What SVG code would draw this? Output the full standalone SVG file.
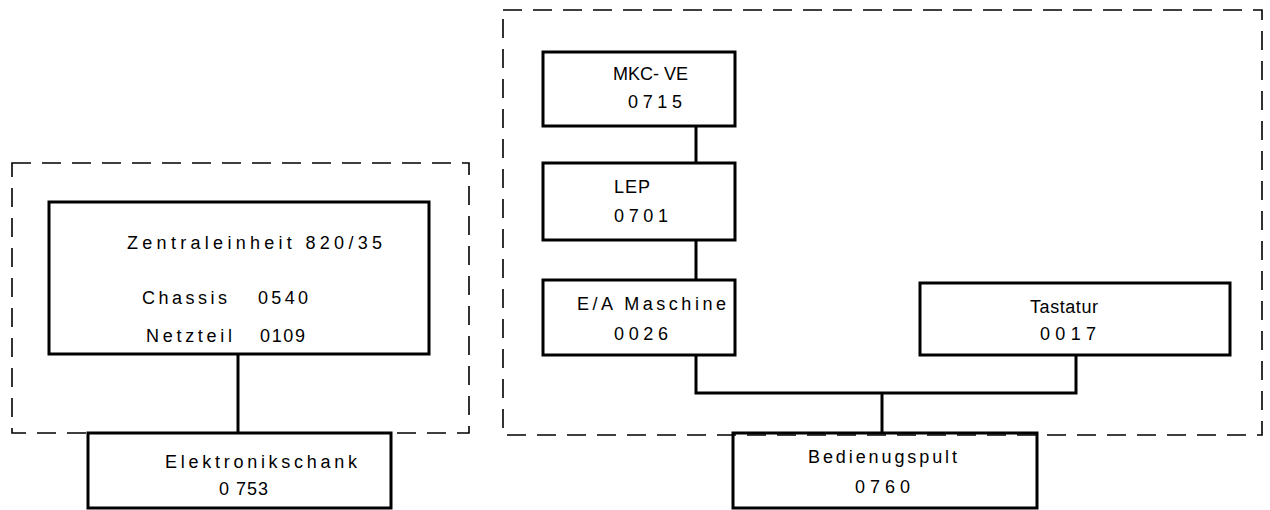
<svg xmlns="http://www.w3.org/2000/svg" width="1270" height="510" viewBox="0 0 1270 510">
<style>
.box{fill:none;stroke:#000;stroke-width:3}
.grp{fill:none;stroke:#000;stroke-width:1.6;stroke-dasharray:19 11}
.con{fill:none;stroke:#000;stroke-width:3}
text{font-family:"Liberation Sans","DejaVu Sans",sans-serif;font-size:18px;fill:#000}
</style>
<rect width="1270" height="510" fill="#fff"/>
<g id="groups">
<rect class="grp" x="12" y="163" width="457" height="270"/>
<rect class="grp" x="503" y="10" width="759" height="425"/>
</g>
<g id="connectors">
<line class="con" x1="238" y1="354" x2="238" y2="433"/>
<line class="con" x1="696" y1="126" x2="696" y2="163"/>
<line class="con" x1="696" y1="240" x2="696" y2="280"/>
<polyline class="con" points="696,355 696,393 1076,393 1076,355"/>
<line class="con" x1="882" y1="393" x2="882" y2="433"/>
</g>
<g id="zentraleinheit">
<rect class="box" x="49" y="202" width="380" height="152"/>
<text x="127" y="249" textLength="255" lengthAdjust="spacing">Zentraleinheit 820/35</text>
<text x="142" y="304" textLength="85" lengthAdjust="spacing">Chassis</text>
<text x="258" y="304" textLength="50" lengthAdjust="spacing">0540</text>
<text x="146" y="342" textLength="86" lengthAdjust="spacing">Netzteil</text>
<text x="260" y="342" textLength="45" lengthAdjust="spacing">0109</text>
</g>
<g id="elektronikschank">
<rect class="box" x="88" y="433" width="303" height="75"/>
<text x="165" y="468" textLength="192" lengthAdjust="spacing">Elektronikschank</text>
<text x="219" y="495" textLength="49" lengthAdjust="spacing">0 753</text>
</g>
<g id="mkc">
<rect class="box" x="543" y="52" width="192" height="74"/>
<text x="613" y="80" textLength="75" lengthAdjust="spacing">MKC- VE</text>
<text x="628" y="108" textLength="54" lengthAdjust="spacing">0715</text>
</g>
<g id="lep">
<rect class="box" x="543" y="163" width="192" height="77"/>
<text x="614" y="193" textLength="36" lengthAdjust="spacing">LEP</text>
<text x="614" y="222" textLength="54" lengthAdjust="spacing">0701</text>
</g>
<g id="ea">
<rect class="box" x="543" y="280" width="192" height="75"/>
<text x="577" y="310" textLength="149" lengthAdjust="spacing">E/A Maschine</text>
<text x="614" y="340" textLength="54" lengthAdjust="spacing">0026</text>
</g>
<g id="tastatur">
<rect class="box" x="920" y="283" width="310" height="72"/>
<text x="1030" y="313" textLength="68" lengthAdjust="spacing">Tastatur</text>
<text x="1040" y="340" textLength="56" lengthAdjust="spacing">0017</text>
</g>
<g id="bedienungspult">
<rect class="box" x="733" y="433" width="304" height="75"/>
<text x="808" y="463" textLength="149" lengthAdjust="spacing">Bedienugspult</text>
<text x="855" y="493" textLength="55" lengthAdjust="spacing">0760</text>
</g>
</svg>
